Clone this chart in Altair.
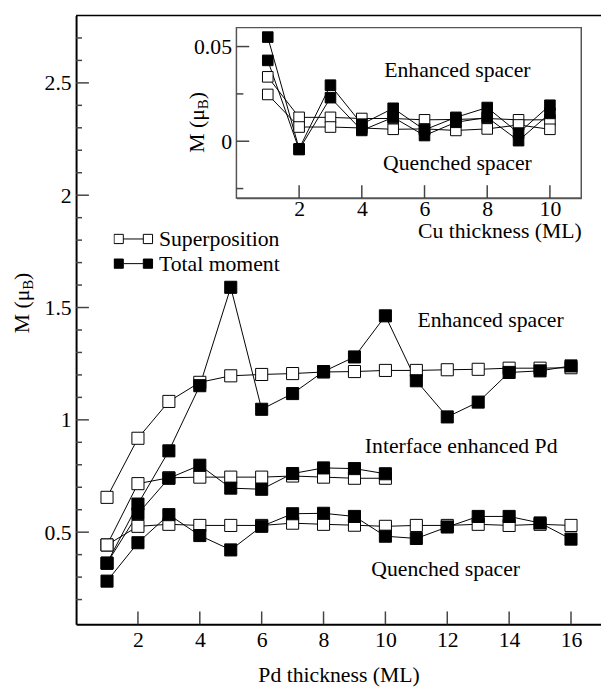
import altair as alt
import pandas as pd

FONT = "Liberation Serif, Times New Roman, serif"

# ---------------- main panel data (Pd thickness) ----------------
pd_thickness = list(range(1, 17))
enh_super = [0.655, 0.918, 1.082, 1.167, 1.196, 1.202, 1.206, 1.213, 1.215, 1.22, 1.22, 1.223, 1.225, 1.23, 1.23, 1.232]
enh_total = [0.362, 0.625, 0.862, 1.152, 1.59, 1.047, 1.117, 1.215, 1.28, 1.463, 1.174, 1.013, 1.079, 1.211, 1.218, 1.24]
int_super = [0.443, 0.716, 0.742, 0.745, 0.745, 0.745, 0.75, 0.745, 0.74, 0.74]
int_total = [0.362, 0.582, 0.740, 0.798, 0.696, 0.691, 0.761, 0.786, 0.783, 0.76]
que_super = [0.443, 0.526, 0.535, 0.53, 0.53, 0.53, 0.54, 0.535, 0.531, 0.526, 0.53, 0.53, 0.535, 0.53, 0.535, 0.53]
que_total = [0.282, 0.453, 0.578, 0.485, 0.421, 0.526, 0.582, 0.584, 0.57, 0.482, 0.472, 0.523, 0.57, 0.57, 0.541, 0.469]

# ---------------- inset data (Cu thickness) ----------------
cu_thickness = list(range(1, 11))
cu_enh_super = [0.034, 0.0126, 0.0126, 0.012, 0.012, 0.0113, 0.0115, 0.012, 0.0113, 0.0113]
cu_enh_total = [0.055, -0.004, 0.0296, 0.009, 0.0174, 0.006, 0.0126, 0.0178, 0.0043, 0.019]
cu_que_super = [0.0247, 0.0075, 0.0075, 0.007, 0.0063, 0.0065, 0.0057, 0.0065, 0.0086, 0.0063]
cu_que_total = [0.0427, -0.0044, 0.023, 0.0057, 0.0126, 0.003, 0.010, 0.0126, 0.0003, 0.0147]

kinds = ["Superposition", "Total moment"]

main_x_ticks = [2, 4, 6, 8, 10, 12, 14, 16]
main_y_major = [0.5, 1.0, 1.5, 2.0, 2.5]
main_y_minor = [0.2, 0.3, 0.4, 0.6, 0.7, 0.8, 0.9, 1.1, 1.2, 1.3, 1.4, 1.6, 1.7, 1.8, 1.9,
                2.1, 2.2, 2.3, 2.4, 2.6, 2.7]
inset_x_ticks = [2, 4, 6, 8, 10]
inset_y_major = [0.0, 0.05]
inset_y_minor = [-0.025, 0.025]

main_labels = ["Enhanced spacer", "Interface enhanced Pd", "Quenched spacer"]
main_label_x = [13.4, 12.45, 11.95]
main_label_y = [1.445, 0.885, 0.335]
inset_labels = ["Enhanced spacer", "Quenched spacer"]
inset_label_x = [7.05, 7.05]
inset_label_y = [0.0375, -0.0113]


def long(xs, series):
    rows = []
    for name, kind, ys in series:
        for x, v in zip(xs, ys):
            rows.append({"x": x, "v": v, "series": name, "kind": kind,
                         "z": 1 if kind == kinds[1] else 0})
    return pd.DataFrame(rows)


main_df = long(pd_thickness, [
    ("es", kinds[0], enh_super), ("is", kinds[0], int_super), ("qs", kinds[0], que_super),
    ("et", kinds[1], enh_total), ("it", kinds[1], int_total), ("qt", kinds[1], que_total),
])
inset_df = long(cu_thickness, [
    ("es", kinds[0], cu_enh_super), ("qs", kinds[0], cu_que_super),
    ("et", kinds[1], cu_enh_total), ("qt", kinds[1], cu_que_total),
])

W, H = 532, 617
# inset placement inside the plot area (pixels)
IX0, IX1, IY0, IY1 = 162.5, 512, 185, 12.3

mx = alt.Scale(domain=[0, 16.97], nice=False, zero=False)
my = alt.Scale(domain=[0.09, 2.8], nice=False, zero=False)
ix = alt.Scale(domain=[0, 11], range=[IX0, IX1], nice=False, zero=False)
iy = alt.Scale(domain=[-0.03, 0.06], range=[IY0, IY1], nice=False, zero=False)

lab = dict(labelFont=FONT, labelFontSize=22, labelColor="black", grid=False,
           ticks=False, tickSize=0, labelFlush=False)
main_x_axis = alt.Axis(values=main_x_ticks, domainColor="black", domainWidth=2,
                       labelPadding=6, title="Pd thickness (ML)", titleFont=FONT,
                       titleFontSize=22, titleFontWeight="normal", titleColor="black",
                       titlePadding=14, **lab)
main_y_axis = alt.Axis(values=main_y_major, format="~g", domainColor="black",
                       domainWidth=2, labelPadding=5, title=None, **lab)
inset_x_axis = alt.Axis(orient="bottom", offset=-(H - IY0), values=inset_x_ticks,
                        domainColor="#555", domainWidth=1.5, labelPadding=1,
                        title="Cu thickness (ML)", titleFont=FONT, titleFontSize=22,
                        titleFontWeight="normal", titleColor="black",
                        titleAnchor="end", titlePadding=1, **lab)
inset_y_axis = alt.Axis(orient="left", offset=-IX0, values=inset_y_major, format="~g",
                        domainColor="#555", domainWidth=1.5, labelPadding=5,
                        title=None, **lab)

sq_path = "M-1,-0.24H-0.52V0.24H-1Z M0.52,-0.24H1V0.24H0.52Z M-0.52,0H0.52"
legend = alt.Legend(orient="none", legendX=38, legendY=214, title=None,
                    symbolType=sq_path, symbolSize=1521, symbolStrokeColor="black",
                    symbolStrokeWidth=1, clipHeight=25, rowPadding=0, padding=0,
                    labelFont=FONT, labelFontSize=22, labelColor="black", labelOffset=6,
                    symbolOffset=0)

TICK = "#444"

# ---------------- main group ----------------
mX = alt.X("x:Q", scale=mx, axis=main_x_axis)
mY = alt.Y("v:Q", scale=my, axis=main_y_axis)

m_lines = alt.Chart(main_df).mark_line(color="black", strokeWidth=1).encode(
    x=mX, y=mY, detail="series:N")
m_pts = alt.Chart(main_df).mark_square(size=150, stroke="black", strokeWidth=1, opacity=1).encode(
    x=mX, y=mY,
    fill=alt.Fill("kind:N", scale=alt.Scale(domain=kinds, range=["white", "black"]), legend=legend),
    order=alt.Order("z:Q"))

m_yt_major = alt.Chart(pd.DataFrame({"t": main_y_major})).mark_rule(color=TICK, strokeWidth=1.5).encode(
    y=alt.Y("t:Q", scale=my, axis=main_y_axis), x=alt.value(0), x2=alt.value(13))
m_yt_minor = alt.Chart(pd.DataFrame({"t": main_y_minor})).mark_rule(color=TICK, strokeWidth=1.5).encode(
    y=alt.Y("t:Q", scale=my, axis=main_y_axis), x=alt.value(0), x2=alt.value(6))
m_xt = alt.Chart(pd.DataFrame({"t": main_x_ticks})).mark_rule(color=TICK, strokeWidth=1.5).encode(
    x=alt.X("t:Q", scale=mx, axis=main_x_axis), y=alt.value(H), y2=alt.value(H - 13))
m_top = alt.Chart(pd.DataFrame({"a": [0]})).mark_rule(color="black", strokeWidth=1.5).encode(
    x=alt.value(0), x2=alt.value(W), y=alt.value(0))

m_text = alt.Chart(pd.DataFrame({"x": main_label_x, "v": main_label_y, "t": main_labels})).mark_text(
    font=FONT, fontSize=22, color="black", align="center", baseline="middle").encode(
    x=mX, y=mY, text="t:N")


def ytitle(px, py):
    one = pd.DataFrame({"a": [0]})
    base = dict(font=FONT, color="black", angle=270, align="left", baseline="middle")
    return [
        alt.Chart(one).mark_text(fontSize=22, dx=0, **base).encode(
            x=alt.value(px), y=alt.value(py), text=alt.value("M (μ")),
        alt.Chart(one).mark_text(fontSize=15, dx=44, dy=6, **base).encode(
            x=alt.value(px), y=alt.value(py), text=alt.value("B")),
        alt.Chart(one).mark_text(fontSize=22, dx=54, **base).encode(
            x=alt.value(px), y=alt.value(py), text=alt.value(")")),
    ]


main_group = alt.layer(m_top, m_yt_major, m_yt_minor, m_xt, m_lines, m_pts, m_text,
                       *ytitle(-55, 322))

# ---------------- inset group ----------------
iX = alt.X("x:Q", scale=ix, axis=inset_x_axis)
iY = alt.Y("v:Q", scale=iy, axis=inset_y_axis)

i_frame = alt.Chart(pd.DataFrame({"a": [0]})).mark_rect(fill="white", stroke="#555", strokeWidth=1.5).encode(
    x=alt.value(IX0), x2=alt.value(IX1), y=alt.value(IY1), y2=alt.value(IY0))
i_lines = alt.Chart(inset_df).mark_line(color="black", strokeWidth=1).encode(
    x=iX, y=iY, detail="series:N")
i_pts = alt.Chart(inset_df).mark_square(size=115, stroke="black", strokeWidth=1, opacity=1).encode(
    x=iX, y=iY,
    fill=alt.condition("datum.kind == 'Total moment'", alt.value("black"), alt.value("white")),
    order=alt.Order("z:Q"))
i_yt_major = alt.Chart(pd.DataFrame({"t": inset_y_major})).mark_rule(color=TICK, strokeWidth=1.5).encode(
    y=alt.Y("t:Q", scale=iy, axis=inset_y_axis), x=alt.value(IX0), x2=alt.value(IX0 + 13))
i_yt_minor = alt.Chart(pd.DataFrame({"t": inset_y_minor})).mark_rule(color=TICK, strokeWidth=1.5).encode(
    y=alt.Y("t:Q", scale=iy, axis=inset_y_axis), x=alt.value(IX0), x2=alt.value(IX0 + 7))
i_xt = alt.Chart(pd.DataFrame({"t": inset_x_ticks})).mark_rule(color=TICK, strokeWidth=1.5).encode(
    x=alt.X("t:Q", scale=ix, axis=inset_x_axis), y=alt.value(IY0), y2=alt.value(IY0 - 13))
i_text = alt.Chart(pd.DataFrame({"x": inset_label_x, "v": inset_label_y, "t": inset_labels})).mark_text(
    font=FONT, fontSize=22, color="black", align="center", baseline="middle").encode(
    x=iX, y=iY, text="t:N")

inset_group = alt.layer(i_frame, i_yt_major, i_yt_minor, i_xt, i_lines, i_pts, i_text,
                        *ytitle(123, 139))

chart = alt.layer(main_group, inset_group).resolve_scale(
    x="independent", y="independent"
).properties(
    width=W, height=H,
    padding={"left": 69, "top": 3, "right": 0, "bottom": 60},
    autosize=alt.AutoSizeParams(type="none"),
).configure_view(stroke=None)

chart.save("out.html", embed_options={"renderer": "svg", "actions": False})
